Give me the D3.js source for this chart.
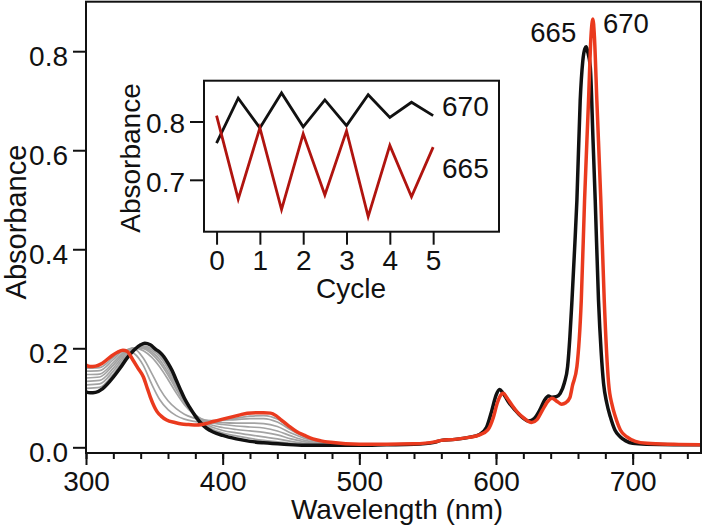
<!DOCTYPE html>
<html><head><meta charset="utf-8">
<script src="https://cdn.jsdelivr.net/npm/d3@7"></script>
<style>
html,body{margin:0;padding:0;background:#fff;}
svg{display:block;}
text{font-family:"Liberation Sans",Arial,Helvetica,sans-serif;fill:#111;}
</style></head>
<body>
<svg id="chart" width="704" height="526"></svg>
<script>
// ---------------- DATA ----------------
// Main spectra: initial (black) and final (red)
const blackWl = [300,303,307,312,318,325,330,335,340,343,347,351,354,357,360,363,366,369,372,376,380,384,388,393,400,410,420,430,445,460,480,500,520,540,555,560,570,580,588,593,597,600,602.6,605,609,614,619,624,628,632,635.5,638.4,641,644,647,650,652.4,654,655.6,657.5,659.2,661.6,663.5,665,666,667,669,671,672.6,675,677,678.7,681,683.6,687,691,695,700,710,730,750];
const blackAbs = [0.112,0.110,0.111,0.118,0.135,0.160,0.180,0.196,0.207,0.210,0.207,0.198,0.192,0.183,0.170,0.155,0.136,0.117,0.099,0.080,0.063,0.049,0.039,0.031,0.024,0.017,0.012,0.009,0.006,0.004,0.004,0.004,0.005,0.006,0.010,0.014,0.016,0.020,0.026,0.040,0.075,0.105,0.117,0.110,0.092,0.075,0.061,0.053,0.058,0.075,0.095,0.1035,0.101,0.102,0.109,0.130,0.163,0.220,0.297,0.400,0.499,0.700,0.780,0.805,0.809,0.800,0.768,0.620,0.499,0.297,0.190,0.129,0.090,0.062,0.035,0.021,0.013,0.008,0.006,0.005,0.005];

const redWl = [300,303,307,312,318,323,327,330,334,338,342,345,347,350,352,355,359,365,370,375,381,388,393,400,406,412,418,425,430,435,439,443,448,454,460,466,472,479,490,500,520,540,555,560,570,580,588,594,598,601,604,605.5,608,612,616,620,626,630,634,638,641,645,648,651,654,656,659.2,662.4,664.8,667.7,669.5,670.9,672,673.8,676.7,679.2,682.4,685,687.3,691,695.8,702,710.5,730,750];
const redAbs = [0.166,0.163,0.164,0.170,0.183,0.192,0.196,0.194,0.178,0.160,0.142,0.118,0.102,0.082,0.072,0.063,0.055,0.050,0.047,0.046,0.045,0.048,0.052,0.057,0.061,0.065,0.069,0.070,0.070,0.069,0.064,0.055,0.044,0.032,0.024,0.017,0.013,0.010,0.007,0.006,0.006,0.007,0.011,0.014,0.016,0.020,0.025,0.035,0.060,0.090,0.107,0.109,0.100,0.084,0.070,0.060,0.050,0.056,0.075,0.093,0.099,0.092,0.087,0.090,0.100,0.125,0.163,0.297,0.499,0.700,0.830,0.865,0.830,0.700,0.499,0.297,0.129,0.085,0.062,0.035,0.021,0.012,0.008,0.006,0.005];

// Intermediate spectra (grey), 300-500 nm
const greyWl = [300,310,320,328,335,342,348,354,360,366,372,378,384,392,400,410,420,430,440,450,460,470,480,490,500];
const grey1 = [0.119,0.121,0.148,0.178,0.198,0.205,0.200,0.187,0.164,0.131,0.097,0.071,0.052,0.037,0.029,0.023,0.018,0.014,0.011,0.008,0.006,0.005,0.004,0.004,0.004];
const grey2 = [0.126,0.128,0.154,0.182,0.199,0.203,0.197,0.183,0.159,0.127,0.095,0.071,0.054,0.041,0.034,0.029,0.025,0.021,0.017,0.012,0.008,0.006,0.005,0.004,0.004];
const grey3 = [0.133,0.135,0.160,0.186,0.200,0.201,0.193,0.177,0.152,0.122,0.093,0.071,0.056,0.045,0.040,0.036,0.033,0.030,0.025,0.017,0.011,0.007,0.005,0.005,0.004];
const grey4 = [0.140,0.142,0.166,0.190,0.201,0.199,0.189,0.171,0.146,0.117,0.090,0.070,0.057,0.049,0.046,0.043,0.041,0.039,0.033,0.023,0.014,0.009,0.006,0.005,0.005];
const grey5 = [0.147,0.148,0.171,0.193,0.201,0.195,0.182,0.162,0.137,0.110,0.086,0.069,0.058,0.052,0.050,0.049,0.049,0.048,0.042,0.029,0.018,0.011,0.007,0.006,0.005];
const grey6 = [0.154,0.155,0.177,0.196,0.199,0.180,0.150,0.118,0.094,0.078,0.067,0.060,0.055,0.054,0.055,0.056,0.058,0.058,0.051,0.035,0.021,0.013,0.008,0.006,0.005];
const grey7 = [0.160,0.161,0.182,0.197,0.190,0.165,0.128,0.096,0.076,0.064,0.057,0.053,0.051,0.052,0.055,0.059,0.063,0.064,0.057,0.038,0.023,0.014,0.009,0.007,0.005];
const greySeries = [grey1,grey2,grey3,grey4,grey5,grey6,grey7];

// Inset: absorbance vs cycle
const cycles = [0,0.5,1,1.5,2,2.5,3,3.5,4,4.5,5];
const inset670 = [0.763,0.840,0.789,0.849,0.791,0.837,0.793,0.846,0.807,0.833,0.810];
const inset665 = [0.810,0.667,0.789,0.649,0.779,0.674,0.784,0.637,0.759,0.671,0.756];

// Ticks / labels
const xMajor = [300,400,500,600,700];
const xMinor = d3.range(300,751,20);
const yMajor = [0,0.2,0.4,0.6,0.8];
const insetXTicks = [0,1,2,3,4,5];
const insetYTicks = [0.7,0.8];
const peakLabels = [{t:"665",wl:666,v:0.809},{t:"670",wl:670.9,v:0.865}];

// ---------------- DRAW ----------------
const svg = d3.select("#chart");
const L=86,R=701,T=1.7,B=453;
const x = d3.scaleLinear([300,750],[L,R]);
const y = d3.scaleLinear([-0.0115,0.9],[B,T]);

const line = (xs,ys)=>d3.line().x((d,i)=>x(xs[i])).y(d=>y(d)).curve(d3.curveMonotoneX)(ys);

const g = svg.append("g");
greySeries.forEach(s=>{
  g.append("path").attr("d",line(greyWl,s)).attr("fill","none")
   .attr("stroke","#a3a3a3").attr("stroke-width",1.7);
});
g.append("path").attr("d",line(blackWl,blackAbs)).attr("fill","none")
 .attr("stroke","#111").attr("stroke-width",3.5).attr("stroke-linejoin","round");
g.append("path").attr("d",line(redWl,redAbs)).attr("fill","none")
 .attr("stroke","#ea3a1e").attr("stroke-width",3.5).attr("stroke-linejoin","round");

// frame
svg.append("rect").attr("x",L).attr("y",T).attr("width",R-L).attr("height",B-T)
 .attr("fill","none").attr("stroke","#111").attr("stroke-width",2);

// x axis
const xa = svg.append("g").attr("transform",`translate(0,${B})`);
xa.call(d3.axisBottom(x).tickValues(xMinor).tickSize(6).tickFormat(""));
xa.append("g").call(d3.axisBottom(x).tickValues(xMajor).tickSize(12).tickPadding(6).tickFormat(d3.format("d")));
xa.selectAll(".domain").remove();
xa.selectAll("line").attr("stroke","#111").attr("stroke-width",2);
xa.selectAll("text").attr("font-size",28).attr("font-family","Liberation Sans, Arial, sans-serif").attr("fill","#111").attr("dy","0.71em");

// y axis
const ya = svg.append("g").attr("transform",`translate(${L},0)`);
ya.call(d3.axisLeft(y).tickValues(yMajor).tickSize(13).tickPadding(5).tickFormat(d3.format(".1f")));
ya.selectAll(".domain").remove();
ya.selectAll("line").attr("stroke","#111").attr("stroke-width",2);
ya.selectAll("text").attr("font-size",28).attr("font-family","Liberation Sans, Arial, sans-serif").attr("fill","#111").attr("dy","0.5em");

svg.append("text").attr("x",397).attr("y",519).attr("text-anchor","middle")
 .attr("font-size",28).text("Wavelength (nm)");
svg.append("text").attr("transform","translate(26,222) rotate(-90)").attr("text-anchor","middle")
 .attr("font-size",29).text("Absorbance");

// peak labels
svg.append("text").attr("x",x(peakLabels[0].wl)-10).attr("y",41.7).attr("text-anchor","end").attr("font-size",27.5).text(peakLabels[0].t);
svg.append("text").attr("x",x(peakLabels[1].wl)+10).attr("y",33.3).attr("text-anchor","start").attr("font-size",27.5).text(peakLabels[1].t);

// ---------------- INSET ----------------
const iL=204,iR=499,iT=80.7,iB=231.7;
const ix = d3.scaleLinear([-0.29,6.52],[iL,iR]);
const iy = d3.scaleLinear([0.611,0.870],[iB,iT]);
const ins = svg.append("g");
ins.append("rect").attr("x",iL).attr("y",iT).attr("width",iR-iL).attr("height",iB-iT)
 .attr("fill","#fff").attr("stroke","#111").attr("stroke-width",2);
const iline = ys=>d3.line().x((d,i)=>ix(cycles[i])).y(d=>iy(d))(ys);
ins.append("path").attr("d",iline(inset670)).attr("fill","none").attr("stroke","#111").attr("stroke-width",2.8);
ins.append("path").attr("d",iline(inset665)).attr("fill","none").attr("stroke","#b0140f").attr("stroke-width",2.8);

const ixa = ins.append("g").attr("transform",`translate(0,${iB})`);
ixa.call(d3.axisBottom(ix).tickValues(insetXTicks).tickSize(13).tickPadding(5).tickFormat(d3.format("d")));
ixa.selectAll(".domain").remove();
const iya = ins.append("g").attr("transform",`translate(${iL},0)`);
iya.call(d3.axisLeft(iy).tickValues(insetYTicks).tickSize(14).tickPadding(5).tickFormat(d3.format(".1f")));
iya.selectAll(".domain").remove();
ins.selectAll("line").attr("stroke","#111").attr("stroke-width",2);
ins.selectAll(".tick text").attr("font-size",28).attr("font-family","Liberation Sans, Arial, sans-serif").attr("fill","#111");
ixa.selectAll("text").attr("dy","0.71em");
iya.selectAll("text").attr("dy","0.41em");

ins.append("text").attr("x",351).attr("y",298).attr("text-anchor","middle").attr("font-size",28).text("Cycle");
ins.append("text").attr("transform","translate(140,158) rotate(-90)").attr("text-anchor","middle").attr("font-size",28).text("Absorbance");
ins.append("text").attr("x",442).attr("y",116).attr("font-size",28).text("670");
ins.append("text").attr("x",442).attr("y",178).attr("font-size",28).text("665");
</script>
</body></html>
